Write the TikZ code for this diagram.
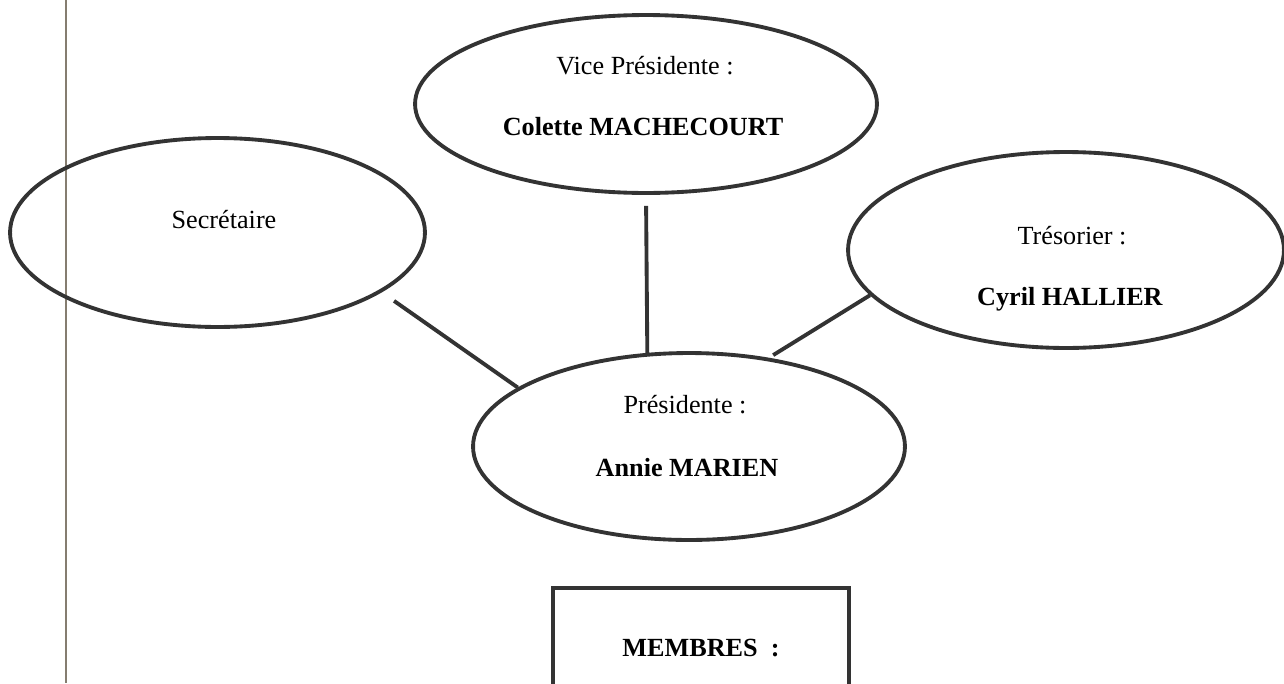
\documentclass[tikz,border=0pt]{standalone}
\usepackage{fontspec}
\setmainfont{Liberation Serif}
\usetikzlibrary{shapes.geometric}
\definecolor{trait}{HTML}{333333}
\definecolor{marge}{HTML}{857D70}

\begin{document}
\begin{tikzpicture}[x=0.02cm, y=-0.02cm,
  font=\fontsize{14.9}{18}\selectfont,
  bulle/.style={ellipse, draw=trait, line width=2.2pt, inner sep=0pt},
  lien/.style={draw=trait, line width=2.2pt},
  cadre/.style={draw=trait, line width=2.2pt, inner sep=0pt},
  texte/.style={anchor=base, inner sep=0pt}]
  \useasboundingbox (0,0) rectangle (1284,683);
  % Marge
  \draw[marge, line width=1.1pt] (66,0) -- (66,683);
  % Bulles
  \node[bulle, minimum width=8.3cm, minimum height=3.78cm] (secretaire) at (217.5,232.5) {};
  \node[bulle, minimum width=9.24cm, minimum height=3.56cm] (vice) at (646,104) {};
  \node[bulle, minimum width=8.72cm, minimum height=3.92cm] (tresorier) at (1066,250) {};
  \node[bulle, minimum width=8.64cm, minimum height=3.74cm] (presidente) at (689,446.5) {};
  % Textes
  \node[texte] (secTitre) at (224,228) {Secrétaire};
  \node[texte] (viceTitre) at (645,74) {Vice Présidente :};
  \node[texte] (viceNom) at (643,135) {\textbf{Colette MACHECOURT}};
  \node[texte] (tresTitre) at (1072,244) {Trésorier :};
  \node[texte] (tresNom) at (1070,305) {\textbf{Cyril HALLIER}};
  \node[texte] (presTitre) at (685,413) {Présidente :};
  \node[texte] (presNom) at (687,476) {\textbf{Annie MARIEN}};
  % Liens
  \draw[lien, shorten <=0.3cm] (secretaire.-20) -- (presidente.161);
  \draw[lien, shorten <=0.22cm] (vice.south) -- (presidente.114);
  \draw[lien, shorten >=0.1cm] (tresorier.-167) -- (presidente.48);
  % Membres
  \node[cadre, minimum width=5.92cm, minimum height=2.4cm] (membres) at (701,648) {\textbf{MEMBRES~~:}};
\end{tikzpicture}
\end{document}
